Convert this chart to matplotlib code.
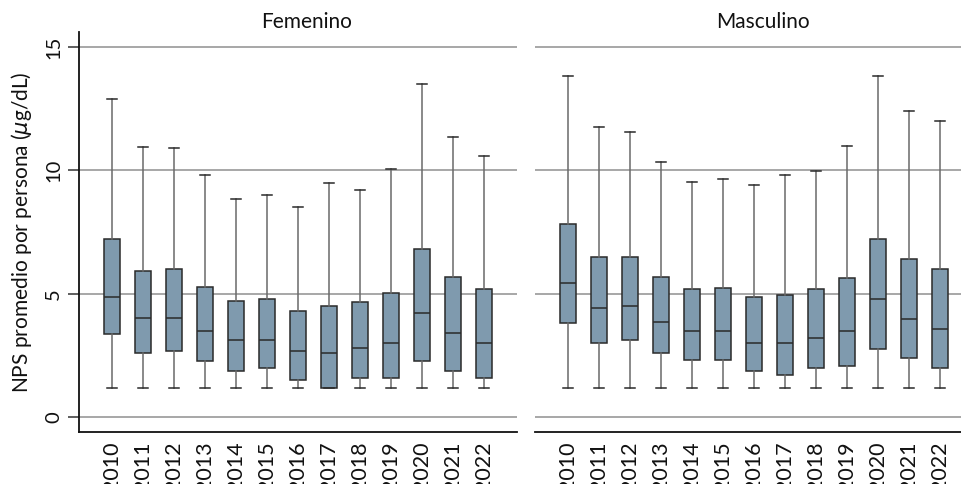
import matplotlib.pyplot as plt

plt.rcParams['font.family'] = ['Lato', 'DejaVu Sans']

years = ['2010', '2011', '2012', '2013', '2014', '2015', '2016',
         '2017', '2018', '2019', '2020', '2021', '2022']

# Femenino
fem_low = [1.18] * 13
fem_q1 = [3.38, 2.58, 2.70, 2.28, 1.89, 2.00, 1.49, 1.18, 1.59, 1.59, 2.28, 1.89, 1.59]
fem_med = [4.88, 4.00, 4.00, 3.50, 3.11, 3.11, 2.70, 2.58, 2.80, 2.99, 4.20, 3.39, 3.00]
fem_q3 = [7.22, 5.93, 5.99, 5.28, 4.69, 4.80, 4.30, 4.49, 4.65, 5.01, 6.80, 5.69, 5.19]
fem_high = [12.88, 10.96, 10.90, 9.81, 8.85, 9.01, 8.50, 9.47, 9.20, 10.07, 13.50, 11.36, 10.57]

# Masculino
mas_low = [1.18] * 13
mas_q1 = [3.80, 2.99, 3.11, 2.58, 2.30, 2.30, 1.89, 1.69, 2.00, 2.08, 2.78, 2.41, 2.00]
mas_med = [5.42, 4.41, 4.50, 3.85, 3.50, 3.50, 2.99, 2.99, 3.19, 3.50, 4.80, 3.99, 3.59]
mas_q3 = [7.81, 6.50, 6.50, 5.69, 5.19, 5.24, 4.88, 4.95, 5.19, 5.65, 7.22, 6.39, 6.01]
mas_high = [13.81, 11.76, 11.57, 10.34, 9.53, 9.66, 9.40, 9.80, 9.96, 10.97, 13.81, 12.40, 12.00]

panels = [
    ('Femenino', fem_low, fem_q1, fem_med, fem_q3, fem_high),
    ('Masculino', mas_low, mas_q1, mas_med, mas_q3, mas_high),
]

W, H = 962, 484
fig = plt.figure(figsize=(W / 100, H / 100), dpi=100)

# posiciones de los paneles en pixeles (izq, arriba, der, abajo)
boxes_px = [(79, 32, 517, 432), (535, 32, 973, 432)]
titulo_x = [307, 763]

for k, (titulo, lo, q1, med, q3, hi) in enumerate(panels):
    l, t, r, b = boxes_px[k]
    ax = fig.add_axes([l / W, 1 - b / H, (r - l) / W, (b - t) / H])

    stats = []
    for i in range(len(years)):
        stats.append(dict(whislo=lo[i], q1=q1[i], med=med[i], q3=q3[i],
                          whishi=hi[i], fliers=[], label=years[i]))

    for v in [0, 5, 10, 15]:
        ax.axhline(v, color='#a0a0a0', lw=1.3, zorder=0)

    ax.bxp(stats, positions=range(len(years)), widths=0.5, patch_artist=True,
           showfliers=False,
           boxprops=dict(facecolor='#7f9aae', edgecolor='#2a2a2a', lw=1.1),
           medianprops=dict(color='#2a2a2a', lw=1.1),
           whiskerprops=dict(color='#6a6a6a', lw=1.1),
           capprops=dict(color='#2a2a2a', lw=1.1),
           capwidths=0.34)

    ax.set_xlim(-1.06, 13.06)
    ax.set_ylim(-0.6, 15.6)
    ax.set_yticks([0, 5, 10, 15])
    ax.set_xticks(range(len(years)))
    ax.set_xticklabels(years, rotation=90, fontsize=15.5, color='#111111')
    ax.tick_params(axis='x', length=0, pad=7)

    for s in ['top', 'right']:
        ax.spines[s].set_visible(False)
    ax.spines['bottom'].set_color('#111111')
    ax.spines['bottom'].set_linewidth(1.3)

    if k == 0:
        ax.spines['left'].set_color('#111111')
        ax.spines['left'].set_linewidth(1.3)
        ax.set_yticklabels(['0', '5', '10', '15'], rotation=90, va='center',
                           fontsize=14.5, color='#111111')
        ax.tick_params(axis='y', length=8, width=1.1, color='#333333', pad=4)
        ax.set_ylabel('NPS promedio por persona ($\\mathit{\\mu}$g/dL)',
                      fontsize=15, color='#111111', labelpad=8)
    else:
        ax.spines['left'].set_visible(False)
        ax.tick_params(axis='y', left=False, labelleft=False)

    ax.set_title(titulo, fontsize=15, color='#111111', pad=3)
    ax.title.set_x((titulo_x[k] - l) / (r - l))

fig.savefig('out.png', dpi=100)
